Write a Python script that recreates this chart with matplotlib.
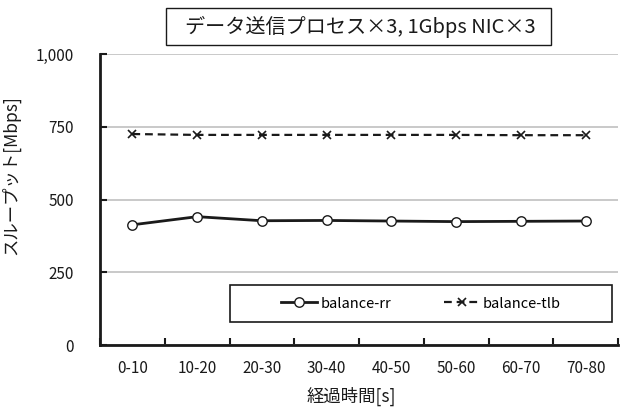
import matplotlib
matplotlib.use("Agg")
import matplotlib.pyplot as plt
from matplotlib.patches import Rectangle

plt.rcParams['font.family'] = ['Noto Sans CJK JP', 'DejaVu Sans']

categories = ["0-10", "10-20", "20-30", "30-40", "40-50", "50-60", "60-70", "70-80"]
rr = [413, 441, 427, 428, 426, 424, 425, 426]
tlb = [725, 722, 722, 722, 722, 722, 721, 721]
yticks = [0, 250, 500, 750, 1000]
ytick_labels = ["0", "250", "500", "750", "1,000"]
title = "データ送信プロセス×3, 1Gbps NIC×3"
xlabel = "経過時間[s]"
ylabel = "スループット[Mbps]"

W, H = 626, 407
fig = plt.figure(figsize=(W / 100, H / 100), dpi=100)
ax = fig.add_axes([100 / W, 1 - 345 / H, 518 / W, 291 / H])

x = list(range(len(categories)))
ax.plot(x, rr, color="#1a1a1a", lw=2.0, marker="o", ms=6.8, mfc="white",
        mec="#1a1a1a", mew=1.0, label="balance-rr", zorder=3)
ax.plot(x, tlb, color="#1a1a1a", lw=1.6, ls=(0, (3.5, 2.2)), marker="x", ms=6,
        mec="#1a1a1a", mew=1.2, label="balance-tlb", zorder=3)

ax.set_xlim(-0.5, len(categories) - 0.5)
ax.set_ylim(0, 1000)
ax.set_yticks(yticks)
ax.set_yticklabels(ytick_labels)
ax.set_xticks(x)
ax.set_xticklabels(categories)
ax.set_xticks([i - 0.5 for i in range(len(categories) + 1)], minor=True)
ax.tick_params(axis="x", which="major", length=0, pad=11, labelsize=11, colors="#1a1a1a")
ax.tick_params(axis="x", which="minor", direction="in", length=5, width=1.5, color="#1a1a1a")
ax.tick_params(axis="y", direction="in", length=5, width=1.5, pad=19, labelsize=11, colors="#1a1a1a")

ax.grid(axis="y", color="#c0c0c0", lw=1.2)
ax.set_axisbelow(True)
for s in ["top", "right"]:
    ax.spines[s].set_visible(False)
for s in ["left", "bottom"]:
    ax.spines[s].set_color("#1a1a1a")
    ax.spines[s].set_linewidth(2.0)

ax.set_xlabel(xlabel, fontsize=12.5, color="#1a1a1a", va="center")
ax.xaxis.set_label_coords((351 - 100) / 518, -(396 - 345) / 291)
ax.set_ylabel(ylabel, fontsize=12.5, color="#1a1a1a")
ax.yaxis.set_label_coords((20 - 100) / 518, (345 - 175) / 291)

# legend frame
lx0, lx1, ly0, ly1 = 230, 612, 285, 322
ax.add_patch(Rectangle(((lx0 - 100) / 518, (345 - ly1) / 291), (lx1 - lx0) / 518, (ly1 - ly0) / 291,
                       transform=ax.transAxes, facecolor="white", edgecolor="#1a1a1a", lw=1.2, zorder=4))
leg = ax.legend(loc="center", bbox_to_anchor=(((lx0 + lx1) / 2 - 100) / 518, (345 - (ly0 + ly1) / 2) / 291),
                ncol=2, frameon=False, fontsize=10.5, handlelength=2.5, columnspacing=3.6,
                handletextpad=0.2, borderaxespad=0)
leg.set_zorder(5)

# title box
fig.patches.append(Rectangle((166 / W, 1 - 45 / H), 385 / W, 37 / H, transform=fig.transFigure,
                             fill=True, facecolor="white", edgecolor="#1a1a1a", lw=1.0))
fig.text(360 / W, 1 - 26.5 / H, title, ha="center", va="center", fontsize=14.5, color="#1a1a1a")

fig.savefig("out.png", dpi=100)
